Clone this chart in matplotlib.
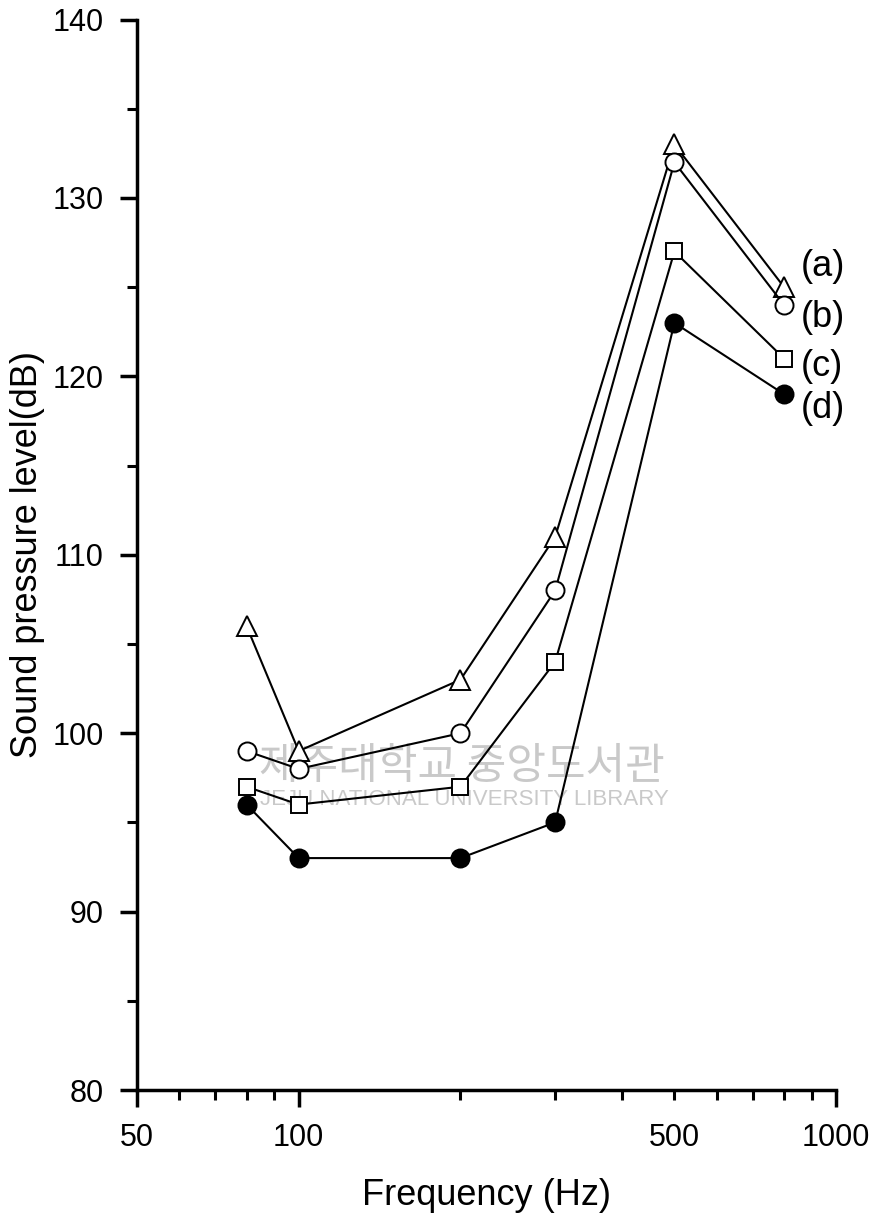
import matplotlib
matplotlib.use('Agg')
import numpy as np
from matplotlib import pyplot as plt
from matplotlib.ticker import FixedLocator, FixedFormatter

plt.rcParams['font.family'] = ['Liberation Sans', 'Noto Sans CJK KR', 'DejaVu Sans']

freq = [80, 100, 200, 300, 500, 800]
spl_a = [106, 99, 103, 111, 133, 125]
spl_b = [99, 98, 100, 108, 132, 124]
spl_c = [97, 96, 97, 104, 127, 121]
spl_d = [96, 93, 93, 95, 123, 119]
names = ['(a)', '(b)', '(c)', '(d)']

fig = plt.figure(figsize=(8.83, 12.22), dpi=100)
ax = fig.add_axes([0.155, 0.108, 0.792, 0.876])

ms = 13
ax.plot(freq, spl_a, '-^', color='black', lw=1.5, ms=ms + 1, mfc='white', mec='black', mew=1.4, zorder=3)
ax.plot(freq, spl_b, '-o', color='black', lw=1.5, ms=ms, mfc='white', mec='black', mew=1.4, zorder=3)
ax.plot(freq, spl_c, '-s', color='black', lw=1.5, ms=ms - 1, mfc='white', mec='black', mew=1.4, zorder=3)
ax.plot(freq, spl_d, '-o', color='black', lw=1.5, ms=ms, mfc='black', mec='black', mew=1.4, zorder=3)

# labels at the right end of each curve (spread apart a little, as in the original)
offsets = [15, -9, -6, -10]
for name, y, dy in zip(names, [spl_a[-1], spl_b[-1], spl_c[-1], spl_d[-1]], offsets):
    ax.annotate(name, (freq[-1], y), xytext=(12, dy), textcoords='offset points',
                fontsize=26, va='center', ha='left', annotation_clip=False)

ax.set_xscale('log')
ax.set_xlim(50, 1000)
ax.set_ylim(80, 140)

ax.xaxis.set_major_locator(FixedLocator([50, 100, 1000]))
ax.xaxis.set_minor_locator(FixedLocator([60, 70, 80, 90, 200, 300, 400, 500, 600, 700, 800, 900]))
ax.xaxis.set_major_formatter(FixedFormatter(['50', '100', '1000']))
ax.xaxis.set_minor_formatter(FixedFormatter(['', '', '', '', '', '', '', '500', '', '', '', '']))
ax.set_yticks(np.arange(80, 141, 10))
ax.set_yticks(np.arange(85, 140, 10), minor=True)

ax.tick_params(which='major', direction='out', length=12, width=2.5, labelsize=22, pad=12)
ax.tick_params(which='minor', direction='out', length=7, width=2.2, labelsize=22, pad=17)

for s in ['top', 'right']:
    ax.spines[s].set_visible(False)
for s in ['left', 'bottom']:
    ax.spines[s].set_linewidth(2.5)

ax.set_xlabel('Frequency (Hz)', fontsize=26, labelpad=18)
ax.set_ylabel('Sound pressure level(dB)', fontsize=26, labelpad=5)

# faint library watermark
ax.text(0.465, 0.302, '제주대학교 중앙도서관', transform=ax.transAxes, fontsize=31,
        color='#b8b8b8', alpha=0.75, ha='center', va='center',
        family=['Noto Sans CJK KR', 'DejaVu Sans'], zorder=0)
ax.text(0.468, 0.271, 'JEJU NATIONAL UNIVERSITY LIBRARY', transform=ax.transAxes,
        fontsize=16, color='#b8b8b8', alpha=0.75, ha='center', va='center', zorder=0)

plt.savefig('out.png', dpi=100)
